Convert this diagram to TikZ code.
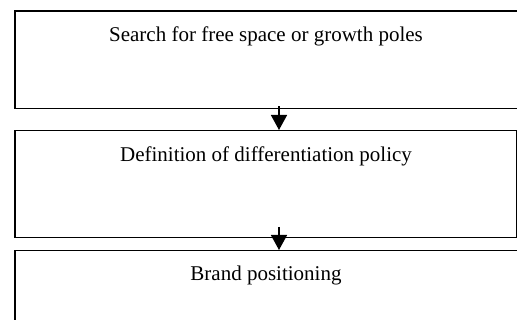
\documentclass[tikz,border=0pt]{standalone}
\usepackage{fontspec}
\setmainfont{Liberation Serif}
\usetikzlibrary{arrows.meta,calc}
\begin{document}
\begin{tikzpicture}[x=1pt,y=-1pt,
  box/.style={draw=black,line width=1.5pt,rectangle,inner sep=0pt,anchor=north west},
  lbl/.style={anchor=base,inner sep=0pt,font=\fontsize{21}{25}\selectfont},
  arr/.style={line width=1.5pt,-{Triangle[width=16pt,length=15pt]}}]
\useasboundingbox (0,0) rectangle (517,320);
\node[box,minimum width=512pt,minimum height=97.5pt] (b1) at (14,10.5) {};
\node[box,minimum width=502pt,minimum height=107pt] (b2) at (14,130) {};
\node[box,minimum width=512pt,minimum height=90pt] (b3) at (14,250) {};
\node[lbl] (t1) at (266,42) {Search for free space or growth poles};
\node[lbl] (t2) at (266,162) {Definition of differentiation policy};
\node[lbl] (t3) at (266,281) {Brand positioning};
\coordinate (a1s) at (279,106.5);
\coordinate (a2s) at (279,227);
\draw[arr] (a1s) -- (a1s |- b2.north);
\draw[arr] (a2s) -- (a2s |- b3.north);
\end{tikzpicture}
\end{document}
